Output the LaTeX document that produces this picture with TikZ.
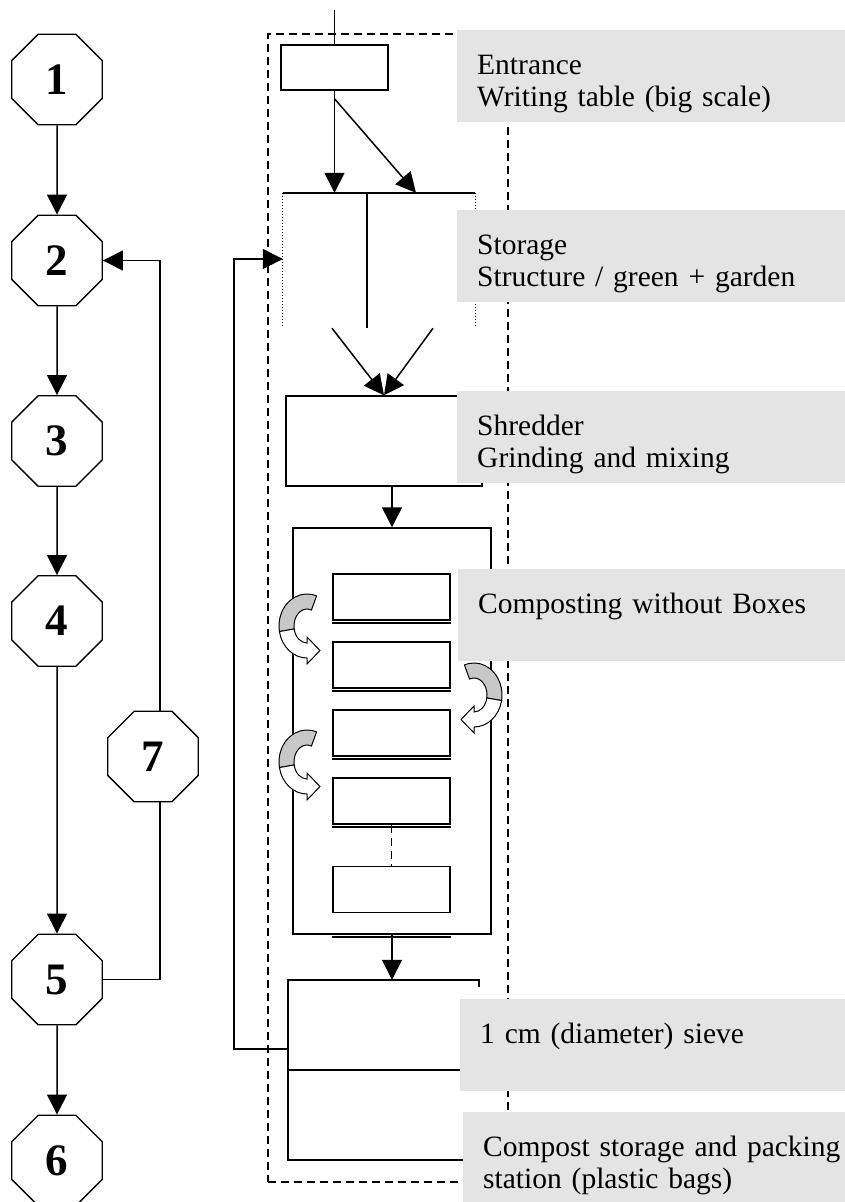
\documentclass[tikz,border=0pt]{standalone}
\usepackage{fontspec}
\setmainfont{Liberation Serif}
\usepackage{xcolor}
\usetikzlibrary{arrows.meta,shapes.geometric}

\definecolor{labelgrey}{RGB}{228,228,228}
\definecolor{bendgrey}{RGB}{200,200,200}

\tikzset{
  step8/.style={draw, line width=1.4pt, regular polygon, regular polygon sides=8,
    minimum size=98pt, inner sep=0pt, font=\fontsize{45}{45}\selectfont\bfseries},
  flow/.style={-{Triangle[length=20pt,width=20pt]}, line width=1.5pt},
  line/.style={line width=1.5pt},
  box/.style={draw, line width=1.5pt, inner sep=0pt},
  pile/.style={box, minimum width=117pt, minimum height=46pt},
  stage/.style={fill=labelgrey, anchor=north west, inner xsep=20pt, inner ysep=0pt,
    text width=380pt, align=left, text height=44pt, text depth=48pt,
    font=\fontsize{29.5}{32}\selectfont},
  turnarrow/.pic={
    \filldraw[fill=bendgrey, line width=1pt] (-70:28 and 32)
      arc[start angle=-70, end angle=-190, x radius=28, y radius=32]
      -- (-190:13 and 17)
      arc[start angle=-190, end angle=-70, x radius=13, y radius=17] -- cycle;
    \filldraw[fill=white, line width=1pt] (-190:28 and 32)
      arc[start angle=-190, end angle=-270, x radius=28, y radius=32]
      -- (0,38) -- (13,24.5) -- (0,11) -- (0,17)
      arc[start angle=-270, end angle=-190, x radius=13, y radius=17] -- cycle;
  }
}

\begin{document}
\begin{tikzpicture}[x=1pt,y=-1pt]
    \useasboundingbox (0,0) rectangle (845,1202);

    % process steps
    \foreach \n/\y in {1/79.5,2/260.5,3/441,4/621,5/979.5,6/1160.5}
        \node[step8] (n\n) at (57,\y) {\n};
    \node[step8] (n7) at (153,756.5) {7};

    \foreach \a/\b in {1/2,2/3,3/4,4/5,5/6}
        \draw[flow] (n\a) -- (n\b);
    \draw[line] (n5.east) -| ([xshift=7pt]n7.south);
    \draw[flow] ([xshift=7pt]n7.north) |- (n2.east);

    % site border
    \node[draw, line width=1.5pt, dash pattern=on 8pt off 5pt,
          minimum width=240pt, minimum height=1148pt, inner sep=0pt] (site) at (388,608) {};

    % entrance
    \node[box, minimum width=107pt, minimum height=45pt] (entr) at (334.5,67.5) {};
    \coordinate (intake) at (334.5,10);
    \draw[line] (intake) -- (entr.north);

    % storage
    \node[minimum width=192pt, minimum height=132pt, inner sep=0pt] (store) at (379,259) {};
    \draw[line] (store.north west) -- (store.north east);
    \draw[line width=1pt, dotted] (store.north west) -- (store.south west);
    \draw[line width=1pt, dotted] (store.north east) -- (store.south east);
    \draw[line] ([xshift=-12pt]store.north) -- ([xshift=-12pt,yshift=-3pt]store.south);
    \draw[flow] (entr.south) -- (entr.south |- store.north);
    \draw[flow] ([yshift=-8pt]entr.south) -- ([xshift=37pt]store.north);

    % shredder
    \node[box, minimum width=196pt, minimum height=90pt] (shred) at (384,441) {};
    \draw[flow] ([xshift=-47pt,yshift=-3pt]store.south) -- (shred.north);
    \draw[flow] ([xshift=54pt,yshift=-3pt]store.south) -- (shred.north);

    % composting
    \node[box, minimum width=198pt, minimum height=406pt] (heap) at (392,731) {};
    \draw[flow] (shred.south -| heap.north) -- (heap.north);
    \foreach \i/\y in {1/597,2/665,3/733,4/801}{
        \node[pile] (p\i) at (391.5,\y) {};
        \draw[line] ([yshift=-2pt]p\i.south west) -- ([yshift=-2pt]p\i.south east);
    }
    \node[pile] (p5) at (391.5,889.5) {};
    \draw[line, dash pattern=on 8pt off 5pt] (p4.south) -- (p5.north);
    \draw[line] ([yshift=-2pt]heap.south -| p5.west) -- ([yshift=-2pt]heap.south -| p5.east);

    % sieve and bagging
    \node[minimum width=191pt, minimum height=90pt, inner sep=0pt] (sieve) at (383.5,1025) {};
    \node[minimum width=191pt, minimum height=90pt, inner sep=0pt] (bag) at (383.5,1115) {};
    \draw[flow] (heap.south) -- (sieve.north -| heap.south);
    \draw[line] ([yshift=-7pt]sieve.north east) -- (sieve.north east) -- (sieve.north west)
        -- (bag.south west) -- (bag.south east);
    \draw[line] (sieve.south west) -- (sieve.south east);
    \draw[flow] ([yshift=-24pt]sieve.west) -- ++(-54,0) |- (store.west);

    % captions
    \node[stage] (cap1) at (457,30) {Entrance\\Writing table (big scale)};
    \node[stage] (cap2) at (457,210) {Storage\\Structure / green + garden};
    \node[stage] (cap3) at (457,391) {Shredder\\Grinding and mixing};
    \node[stage] (cap4) at (458,569) {Composting without Boxes};
    \node[stage] (cap5) at (460,999) {1 cm (diameter) sieve};
    \node[stage] (cap6) at (463,1112) {Compost storage and packing\\station (plastic bags)};

    % turning
    \pic at (307,626) {turnarrow};
    \pic[xscale=-1] at (474,695) {turnarrow};
    \pic at (307,762) {turnarrow};
\end{tikzpicture}
\end{document}
